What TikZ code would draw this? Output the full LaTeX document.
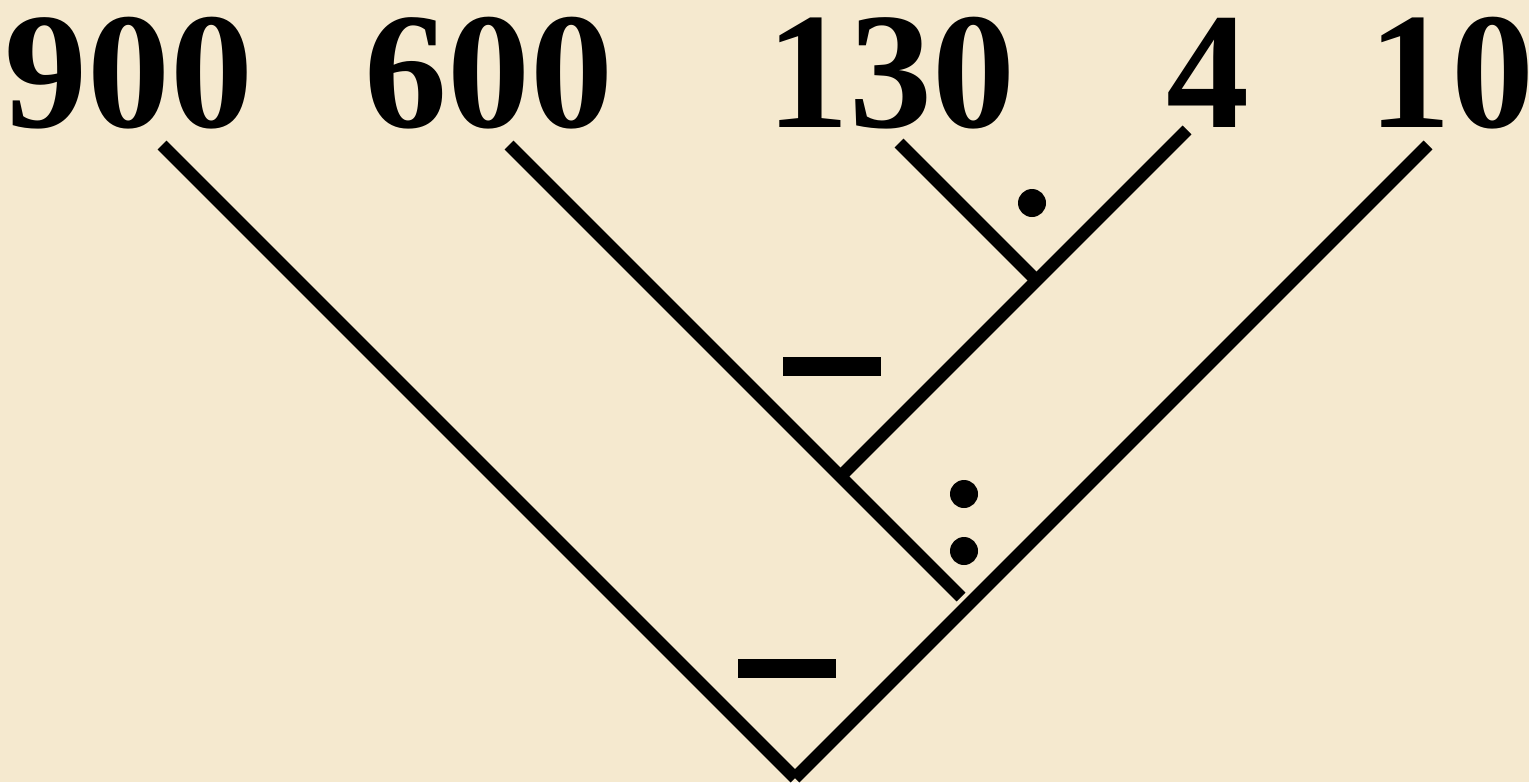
\documentclass[tikz,border=0pt]{standalone}
\usepackage{fontspec}
\newfontfamily\numfont{Liberation Serif}[BoldFont={Liberation Serif Bold}]
\definecolor{parch}{RGB}{245,233,207}
\begin{document}
\begin{tikzpicture}[x=1pt,y=-1pt,
  num/.style={anchor=base,inner sep=0pt,text height=112pt,text depth=0pt,font=\numfont\bfseries\fontsize{166}{166}\selectfont},
  branch/.style={line width=12.5pt,line cap=butt},
  bar/.style={fill=black,draw=none,rectangle,minimum width=98pt,minimum height=19pt,inner sep=0pt},
  dotmark/.style={fill=black,draw=none,circle,minimum size=28pt,inner sep=0pt}]
\fill[parch] (0,0) rectangle (1529,782);
\useasboundingbox (0,0) rectangle (1529,782);
\node[num] (n900) at (129,127) {900};
\node[num] (n600) at (489,127) {600};
\node[num] (n130) at (891,127) {130};
\node[num] (n4) at (1208,127) {4};
\node[num] (n10) at (1451,127) {10};
\coordinate (a900) at (162,145);
\coordinate (a600) at (509,145);
\coordinate (a130) at (899,143);
\coordinate (a4) at (1187,130);
\coordinate (a10) at (1428,145);
\coordinate (bot) at (795,778);
\coordinate (j1) at (1036.5,280.5);
\coordinate (j2) at (840.5,476.5);
\coordinate (e600) at (961,597);
\draw[branch] (a900) -- (bot);
\draw[branch] (a10) -- (bot);
\draw[branch] (a600) -- (e600);
\draw[branch] (a130) -- (j1);
\draw[branch] (a4) -- (j2);
\node[bar] (m1) at (832,366.5) {};
\node[bar] (m2) at (787,668.5) {};
\node[dotmark] (d1) at (1032,203) {};
\node[dotmark] (d2) at (964,494) {};
\node[dotmark] (d3) at (964,551) {};
\end{tikzpicture}
\end{document}
